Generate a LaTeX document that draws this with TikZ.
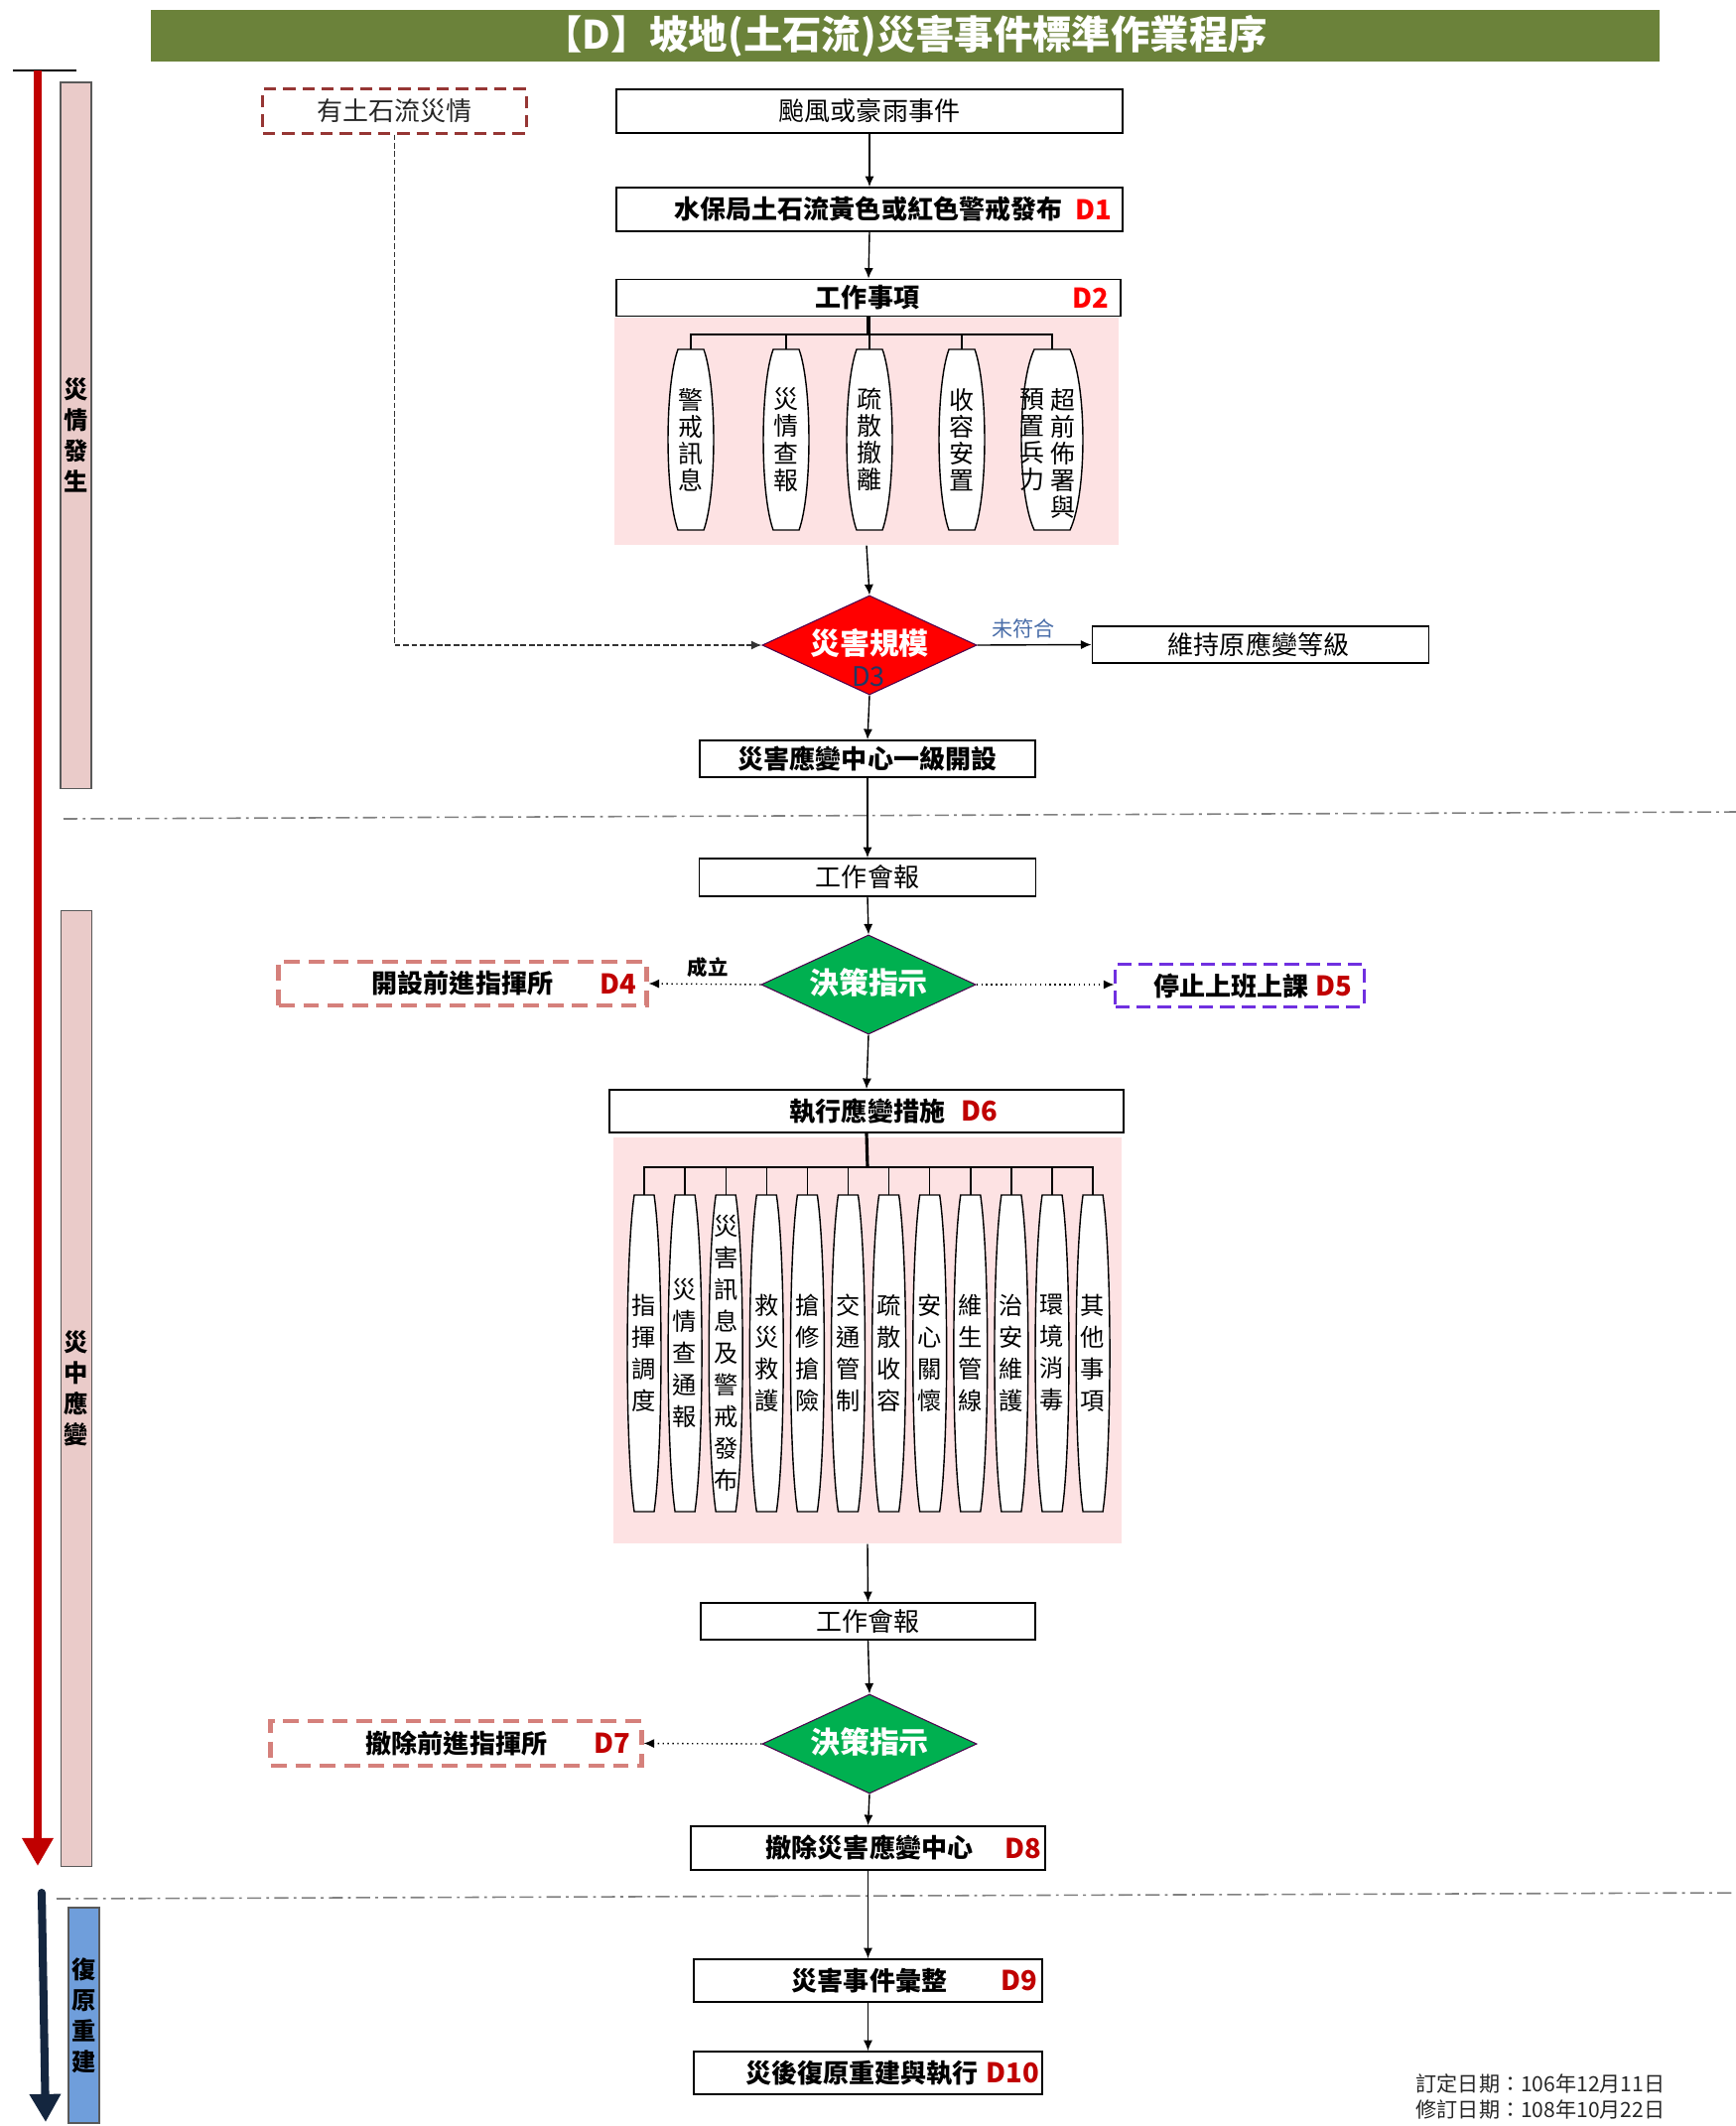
\documentclass[tikz,border=0pt]{standalone}
\usepackage{fontspec}
\setmainfont{Noto Sans CJK TC}
\usetikzlibrary{shapes.geometric,arrows.meta}

\definecolor{titlegreen}{HTML}{6B823A}
\definecolor{bgpink}{HTML}{FDE2E3}
\definecolor{barpink}{HTML}{EACBC9}
\definecolor{darkred}{HTML}{C00000}
\definecolor{tlred}{HTML}{963634}
\definecolor{cmdred}{HTML}{D5807B}
\definecolor{stoppurple}{HTML}{7030E0}
\definecolor{navy}{HTML}{14263F}
\definecolor{recblue}{HTML}{6F9EDB}
\definecolor{okgreen}{HTML}{00B050}
\definecolor{notblue}{HTML}{4A6EA9}
\definecolor{dthree}{HTML}{1F3864}

\tikzset{
  box/.style={draw, line width=0.5pt, fill=white, inner sep=0pt},
  txt/.style={font=\fontsize{7.4}{8}\selectfont, inner sep=0pt},
  btxt/.style={font=\fontsize{7.4}{8}\selectfont\bfseries, inner sep=0pt},
  dlab/.style={font=\fontsize{7.8}{8}\selectfont\bfseries, text=darkred, inner sep=0pt},
  flow/.style={-{Latex[length=3pt,width=2.6pt]}, line width=0.4pt},
  dec/.style={diamond, draw=violet!60!black, line width=0.3pt, minimum width=2.16cm, minimum height=1cm, inner sep=0pt},
  dectxt/.style={text=white, font=\fontsize{8.5}{9}\selectfont\bfseries, inner sep=0pt},
  sep/.style={gray, line width=0.45pt, dash pattern=on 4pt off 1.5pt on 0.8pt off 1.5pt},
  phase/.style={draw=gray!70!black, line width=0.4pt, minimum width=0.31cm, inner sep=0pt},
  vtxt/.style={align=center, inner sep=0pt},
}

% barrel shaped item: cx, top, bottom, half flat, bulge control
\newcommand\pill[5]{%
  \draw[line width=0.4pt, fill=white] ({#1-#4},#2) -- ({#1+#4},#2)
    .. controls ({#1+#5},{#2+0.2*(#3-#2)}) and ({#1+#5},{#3-0.2*(#3-#2)}) .. ({#1+#4},#3)
    -- ({#1-#4},#3)
    .. controls ({#1-#5},{#3-0.2*(#3-#2)}) and ({#1-#5},{#2+0.2*(#3-#2)}) .. cycle;}

\begin{document}
\begin{tikzpicture}[x=0.01cm,y=-0.01cm]
\useasboundingbox (0,0) rectangle (1749,2142);

% title
\node[fill=titlegreen, minimum width=15.2cm, minimum height=0.52cm, inner sep=0pt, text=white, font=\fontsize{11.2}{12}\selectfont\bfseries] (title) at (912,36) {【D】坡地(土石流)災害事件標準作業程序};

% time line on the left
\draw[line width=0.8pt] (13,71) -- (77,71);
\draw[darkred, line width=2.3pt, -{Triangle[length=8pt,width=8.5pt]}] (38,71) -- (38,1880);
\node[phase, fill=barpink, minimum height=7.11cm] (ph1) at (76.5,438.5) {};
\node[vtxt, font=\fontsize{6.9}{8.8}\selectfont\bfseries] (ph1t) at (ph1) {災\\情\\發\\生};
\node[phase, fill=barpink, minimum height=9.62cm] (ph2) at (77,1399) {};
\node[vtxt, font=\fontsize{6.9}{8.8}\selectfont\bfseries] (ph2t) at (ph2) {災\\中\\應\\變};
\draw[navy, line width=2.3pt, line cap=round, -{Triangle[length=8pt,width=8.5pt]}] (42,1907) -- (46,2138);
\node[phase, fill=recblue, minimum height=2.17cm] (ph3) at (84.5,2030.5) {};
\node[vtxt, font=\fontsize{6.9}{8.8}\selectfont\bfseries] (ph3t) at (ph3) {復\\原\\重\\建};

% phase borders
\draw[sep] (64,825) -- (1749,818);
\draw[sep] (57,1913) -- (1749,1907);

% occurrence
\node[box, minimum width=5.10cm, minimum height=0.44cm] (b0) at (876,112) {};
\node[txt] (b0t) at (b0) {颱風或豪雨事件};
\node[box, minimum width=5.10cm, minimum height=0.44cm] (b1) at (876,211) {};
\node[btxt] (b1t) at (875,211) {水保局土石流黃色或紅色警戒發布};
\node[dlab, text=red, anchor=east] (b1d) at (1121,211) {D1};
\node[box, minimum width=5.08cm, minimum height=0.37cm] (b2) at (875,300) {};
\node[btxt] (b2t) at (874,300) {工作事項};
\node[dlab, text=red, anchor=east] (b2d) at (1118,300) {D2};
\node[fill=bgpink, minimum width=5.08cm, minimum height=2.29cm, inner sep=0pt, anchor=north] (bg1) at (873,319) {};

\draw[flow] (b0.south) -- (b1.north);
\draw[flow] (b1.south) -- (b2.north);

\coordinate (j1) at (875,337);
\pill{696}{352}{534}{13}{26.3}
\pill{792}{352}{534}{13}{26.3}
\pill{876}{352}{534}{13}{26.3}
\pill{969}{352}{534}{13}{26.3}
\pill{1060}{352}{534}{18}{35.3}
\coordinate (p1) at (696,352);
\coordinate (p2) at (792,352);
\coordinate (p3) at (876,352);
\coordinate (p4) at (969,352);
\coordinate (p5) at (1060,352);
\draw[line width=0.9pt] (b2.south) -- (j1);
\draw[line width=0.4pt] (j1) -| (p1);
\draw[line width=0.4pt] (j1) -| (p2);
\draw[line width=0.4pt] (j1) -| (p3);
\draw[line width=0.4pt] (j1) -| (p4);
\draw[line width=0.4pt] (j1) -| (p5);
\node[vtxt, font=\fontsize{7.1}{7.7}\selectfont] (p1t) at (696,443) {警\\戒\\訊\\息};
\node[vtxt, font=\fontsize{7.1}{7.7}\selectfont] (p2t) at (792,443) {災\\情\\查\\報};
\node[vtxt, font=\fontsize{7.1}{7.7}\selectfont] (p3t) at (876,443) {疏\\散\\撤\\離};
\node[vtxt, font=\fontsize{7.1}{7.7}\selectfont] (p4t) at (969,443) {收\\容\\安\\置};
\node[vtxt, font=\fontsize{7.1}{7.7}\selectfont, anchor=north] (p5r) at (1071,391) {超\\前\\佈\\署\\與};
\node[vtxt, font=\fontsize{7.1}{7.7}\selectfont, anchor=north] (p5l) at (1040,391) {預\\置\\兵\\力};

% scale of the disaster
\node[dec, fill=red] (d3) at (876,650) {};
\node[dectxt] (d3t) at (876,648) {災害規模};
\node[font=\fontsize{7.7}{8}\selectfont, text=dthree, inner sep=0pt] (d3d) at (875,682) {D3};
\draw[flow] (bg1.south) -- (d3.north);

\node[draw=tlred, line width=0.85pt, dash pattern=on 3.5pt off 2pt, minimum width=2.65cm, minimum height=0.44cm, inner sep=0pt] (tl) at (397.5,112) {};
\node[txt, text=black!85] (tlt) at (tl) {有土石流災情};
\draw[flow, dash pattern=on 1.6pt off 0.8pt, black!80] (tl.south) |- (d3.west);

\node[box, minimum width=3.39cm, minimum height=0.37cm] (keep) at (1270,649.5) {};
\node[txt] (keept) at (1268,649.5) {維持原應變等級};
\draw[flow] (d3.east) -- (keep.west);
\node[font=\fontsize{6}{7}\selectfont, text=notblue, inner sep=0pt] (no) at (1031,633) {未符合};

\node[box, minimum width=3.38cm, minimum height=0.37cm] (lv1) at (874,764.5) {};
\node[btxt] (lv1t) at (lv1) {災害應變中心一級開設};
\draw[flow] (d3.south) -- (lv1.north);

% response
\node[box, minimum width=3.39cm, minimum height=0.38cm] (meet1) at (874,884) {};
\node[txt] (meet1t) at (meet1) {工作會報};
\draw[flow] (lv1.south) -- (meet1.north);

\node[dec, fill=okgreen] (dec1) at (875,992) {};
\node[dectxt] (dec1t) at (875,990) {決策指示};
\draw[flow] (meet1.south) -- (dec1.north);

\node[draw=cmdred, line width=1.4pt, dash pattern=on 4.5pt off 2.5pt, fill=white, minimum width=3.70cm, minimum height=0.44cm, inner sep=0pt] (d4) at (466,991) {};
\node[btxt] (d4t) at (466,991) {開設前進指揮所};
\node[dlab, anchor=east] (d4d) at (642,991) {D4};
\draw[flow, densely dotted] (dec1.west) -- (d4.east);
\node[font=\fontsize{5.8}{7}\selectfont\bfseries, inner sep=0pt] (ok) at (713,975) {成立};

\node[draw=stoppurple, line width=0.85pt, dash pattern=on 4pt off 2pt, fill=white, minimum width=2.50cm, minimum height=0.43cm, inner sep=0pt] (d5) at (1249,993) {};
\node[dlab, anchor=east] (d5d) at (1363,993) {D5};
\node[btxt, anchor=east] (d5t) at ([xshift=-1.5pt]d5d.west) {停止上班上課};
\draw[flow, densely dotted] (dec1.east) -- (dec1.east -| d5.west);

\node[box, minimum width=5.18cm, minimum height=0.43cm] (d6) at (873,1119.5) {};
\node[btxt] (d6t) at (874,1119.5) {執行應變措施};
\node[dlab, anchor=west] (d6d) at (968,1119.5) {D6};
\draw[flow] (dec1.south) -- (d6.north);
\node[fill=bgpink, minimum width=5.12cm, minimum height=4.09cm, inner sep=0pt, anchor=north] (bg2) at (874,1145) {};

\coordinate (j2) at (874,1176);
\draw[line width=0.9pt] (d6.south) -- (j2);
\foreach \i/\t in {0/{指\\揮\\調\\度},1/{災\\情\\查\\通\\報},2/{災\\害\\訊\\息\\及\\警\\戒\\發\\布},3/{救\\災\\救\\護},4/{搶\\修\\搶\\險},5/{交\\通\\管\\制},6/{疏\\散\\收\\容},7/{安\\心\\關\\懷},8/{維\\生\\管\\線},9/{治\\安\\維\\護},10/{環\\境\\消\\毒},11/{其\\他\\事\\項}} {
  \pgfmathsetmacro\cx{649+41.1*\i}
  \pill{\cx}{1204}{1523}{10}{19.3}
  \coordinate (q\i) at (\cx,1204);
  \draw[line width=0.4pt] (j2) -| (q\i);
  \node[vtxt, font=\fontsize{6.9}{9.1}\selectfont] (qt\i) at (\cx,1363) {\t};
}

\node[box, minimum width=3.37cm, minimum height=0.37cm] (meet2) at (874.5,1633.5) {};
\node[txt] (meet2t) at (meet2) {工作會報};
\draw[flow] (bg2.south) -- (meet2.north);

\node[dec, fill=okgreen] (dec2) at (876,1757) {};
\node[dectxt] (dec2t) at (876,1755) {決策指示};
\draw[flow] (meet2.south) -- (dec2.north);

\node[draw=cmdred, line width=1.4pt, dash pattern=on 4.5pt off 2.5pt, fill=white, minimum width=3.73cm, minimum height=0.45cm, inner sep=0pt] (d7) at (459.5,1756.5) {};
\node[btxt] (d7t) at (460,1756.5) {撤除前進指揮所};
\node[dlab, anchor=east] (d7d) at (636,1756.5) {D7};
\draw[flow, densely dotted] (dec2.west) -- (d7.east);

\node[box, minimum width=3.57cm, minimum height=0.44cm] (d8) at (874.5,1862) {};
\node[btxt] (d8t) at (876,1862) {撤除災害應變中心};
\node[dlab, anchor=east] (d8d) at (1050,1862) {D8};
\draw[flow] (dec2.south) -- (d8.north);

% recovery
\node[box, minimum width=3.51cm, minimum height=0.43cm] (d9) at (874.5,1995.5) {};
\node[btxt] (d9t) at (876,1995.5) {災害事件彙整};
\node[dlab, anchor=east] (d9d) at (1046,1995.5) {D9};
\draw[flow] (d8.south) -- (d9.north);

\node[box, minimum width=3.51cm, minimum height=0.43cm] (d10) at (874.5,2088.5) {};
\node[dlab, anchor=east] (d10d) at (1048,2088.5) {D10};
\node[btxt, anchor=east] (d10t) at ([xshift=-2pt]d10d.west) {災後復原重建與執行};
\draw[flow] (d9.south) -- (d10.north);

% dates
\node[font=\fontsize{6}{6.5}\selectfont, text=black!85, anchor=west, inner sep=0pt] (set) at (1426,2099) {訂定日期：106年12月11日};
\node[font=\fontsize{6}{6.5}\selectfont, text=black!85, anchor=west, inner sep=0pt] (rev) at (1426,2125) {修訂日期：108年10月22日};
\end{tikzpicture}
\end{document}
